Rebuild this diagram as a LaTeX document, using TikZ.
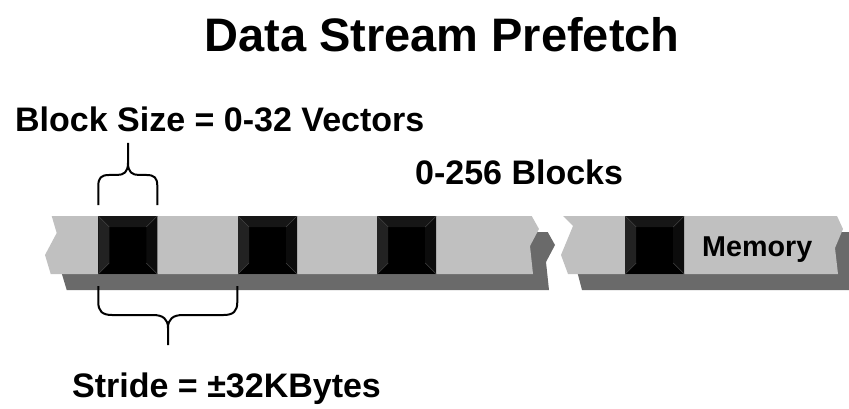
\documentclass[tikz,border=0pt]{standalone}
\usepackage{fontspec}
\setmainfont{Liberation Sans}
\usetikzlibrary{calc}
\definecolor{lightstrip}{HTML}{C0C0C0}
\definecolor{darkstrip}{HTML}{6A6A6A}
\definecolor{bevA}{HTML}{222222}
\definecolor{bevB}{HTML}{161616}
\definecolor{bevC}{HTML}{0C0C0C}
\definecolor{bevLine}{HTML}{444444}
\tikzset{
  lbl/.style={anchor=base west, inner sep=0pt, font=\bfseries\fontsize{34}{40}\selectfont},
  brace/.style={draw=black, line width=2pt},
  blk/.style={minimum width=59pt, minimum height=58pt, inner sep=0pt, fill=black,
    path picture={
      \coordinate (pnw) at (path picture bounding box.north west);
      \coordinate (pne) at (path picture bounding box.north east);
      \coordinate (psw) at (path picture bounding box.south west);
      \coordinate (pse) at (path picture bounding box.south east);
      \fill[bevA] (pnw) -- ($(pnw)+(11pt,-11pt)$) -- ($(psw)+(11pt,11pt)$) -- (psw) -- cycle;
      \fill[bevB] (pnw) -- ($(pnw)+(11pt,-11pt)$) -- ($(pne)+(-11pt,-11pt)$) -- (pne) -- cycle;
      \fill[bevC] (pne) -- ($(pne)+(-11pt,-11pt)$) -- ($(pse)+(-11pt,11pt)$) -- (pse) -- cycle;
      \fill[black] (psw) -- ($(psw)+(11pt,11pt)$) -- ($(pse)+(-11pt,11pt)$) -- (pse) -- cycle;
      \draw[bevLine, line width=0.5pt] (pnw) -- ++(11pt,-11pt) (pne) -- ++(-11pt,-11pt)
        (psw) -- ++(11pt,11pt) (pse) -- ++(-11pt,11pt);
    }}
}
\begin{document}
\begin{tikzpicture}[x=1pt, y=-1pt]
\useasboundingbox (0,0) rectangle (849,409);
\clip (0,0) rectangle (849,409);
% shadows
\fill[darkstrip] (67.7,232) -- (547.7,232) -- (555,245) -- (546,262) -- (549,290) -- (66.7,290) -- (61,271) -- (72.7,249) -- cycle;
\fill[darkstrip] (579,232) -- (853,232) -- (859,245) -- (851,264) -- (854,290) -- (582,290) -- (577,271) -- (589,242) -- cycle;
% light strips
\fill[lightstrip] (51.7,216) -- (531.7,216) -- (539,229) -- (530,246) -- (533,274) -- (50.7,274) -- (45,255) -- (56.7,233) -- cycle;
\fill[lightstrip] (563,216) -- (837,216) -- (843,229) -- (835,248) -- (838,274) -- (568,274) -- (561,255) -- (573,226) -- cycle;
% blocks
\node[blk] (b1) at (127.8,245) {};
\node[blk] (b2) at (267.5,245) {};
\node[blk] (b3) at (406.7,245) {};
\node[blk] (b4) at (654.7,245) {};
% texts
\node[anchor=base, inner sep=0pt, font=\bfseries\fontsize{47}{54}\selectfont] (title) at (442,52) {Data Stream Prefetch};
\node[lbl] (bsize) at (15,132) {Block Size = 0-32 Vectors};
\node[lbl] (nblocks) at (415,184) {0-256 Blocks};
\node[lbl] (stride) at (72,397) {Stride = ±32KBytes};
\node[anchor=base west, inner sep=0pt, font=\bfseries\fontsize{28.7}{34}\selectfont] (mem) at (702,256) {Memory};
% top brace
\draw[brace] (98.3,205) -- (98.3,186) .. controls (98.3,178) and (101,175) .. (109,175) -- (117,175)
  .. controls (124,175) and (128,172) .. (128,163) -- (128,143);
\draw[brace] (157.3,205) -- (157.3,186) .. controls (157.3,178) and (154.6,175) .. (146.6,175) -- (139,175)
  .. controls (132,175) and (128,172) .. (128,163);
% bottom brace
\draw[brace] (98.3,286) -- (98.3,302) .. controls (98.3,311) and (102,315) .. (112,315) -- (153,315)
  .. controls (163,315) and (168,319) .. (168,328) -- (168,345);
\draw[brace] (237.3,286) -- (237.3,302) .. controls (237.3,311) and (233.6,315) .. (223.6,315) -- (183,315)
  .. controls (173,315) and (168,319) .. (168,328);
\end{tikzpicture}
\end{document}
